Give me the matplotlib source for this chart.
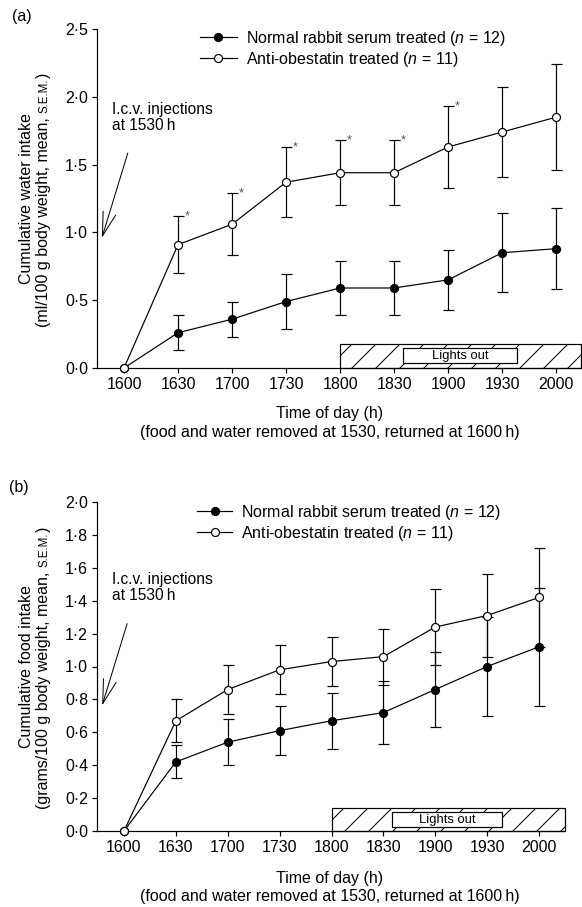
import matplotlib
matplotlib.use('Agg')
import matplotlib.pyplot as plt
from matplotlib.transforms import IdentityTransform
from matplotlib.ticker import FuncFormatter, FixedLocator
from matplotlib.patches import Rectangle

plt.rcParams['font.family'] = ['Liberation Sans', 'DejaVu Sans']
plt.rcParams['mathtext.fontset'] = 'custom'
plt.rcParams['mathtext.rm'] = 'Liberation Sans'
plt.rcParams['mathtext.it'] = 'Liberation Sans:italic'
plt.rcParams['hatch.linewidth'] = 1.0

# ---------------- data ----------------
times = ['1600', '1630', '1700', '1730', '1800', '1830', '1900', '1930', '2000']

water_nrs = [0, 0.26, 0.36, 0.49, 0.59, 0.59, 0.65, 0.85, 0.88]
water_nrs_sem = [0, 0.13, 0.13, 0.20, 0.20, 0.20, 0.22, 0.29, 0.30]
water_anti = [0, 0.91, 1.06, 1.37, 1.44, 1.44, 1.63, 1.74, 1.85]
water_anti_sem = [0, 0.21, 0.23, 0.26, 0.24, 0.24, 0.30, 0.33, 0.39]
water_sig = [False, True, True, True, True, True, True, False, False]

food_nrs = [0, 0.42, 0.54, 0.61, 0.67, 0.72, 0.86, 1.00, 1.12]
food_nrs_sem = [0, 0.10, 0.14, 0.15, 0.17, 0.19, 0.23, 0.30, 0.36]
food_anti = [0, 0.67, 0.86, 0.98, 1.03, 1.06, 1.24, 1.31, 1.42]
food_anti_sem = [0, 0.13, 0.15, 0.15, 0.15, 0.17, 0.23, 0.25, 0.30]

label_nrs = r'Normal rabbit serum treated ($n$ = 12)'
label_anti = r'Anti-obestatin treated ($n$ = 11)'

W, H, DPI = 582, 907, 72
fig = plt.figure(figsize=(W / DPI, H / DPI), dpi=DPI)
FS = 16
FS_NOTE = 15.5
FS_LEG = 16
LW = 1.2


def ax_rect(l, t, r, b):
    return [l / W, 1 - b / H, (r - l) / W, (b - t) / H]


def fmt(v, pos):
    return ('%.1f' % v).replace('.', '\u00b7')


def panel(ax, nrs, nrs_sem, anti, anti_sem, xlim, ylim, yticks,
          lights, hatch_top, legend_xy, handlelen, note_xy, arrow, sig=None):
    x = list(range(len(times)))
    ax.set_xlim(*xlim)
    ax.set_ylim(*ylim)
    for s in ['top', 'right']:
        ax.spines[s].set_visible(False)
    for s in ['left', 'bottom']:
        ax.spines[s].set_linewidth(LW)
    ax.xaxis.set_major_locator(FixedLocator(x))
    ax.set_xticklabels(times)
    ax.yaxis.set_major_locator(FixedLocator(yticks))
    ax.yaxis.set_major_formatter(FuncFormatter(fmt))
    ax.tick_params(direction='out', length=5, width=LW, labelsize=FS)
    ax.tick_params(axis='x', pad=4.5)
    ax.tick_params(axis='y', pad=4)

    # lights-out bar
    ax.add_patch(Rectangle((4, 0), xlim[1] - 4, hatch_top, facecolor='white',
                           edgecolor='black', hatch='/', lw=LW, clip_on=False, zorder=1))
    lx0, lx1, ly0, ly1 = lights
    ax.add_patch(Rectangle((lx0, ly0), lx1 - lx0, ly1 - ly0, facecolor='white',
                           edgecolor='black', lw=LW, clip_on=False, zorder=2))
    ax.text((lx0 + lx1) / 2, (ly0 + ly1) / 2, 'Lights out', ha='center', va='center',
            fontsize=13, zorder=3)

    ax.errorbar(x[1:], nrs[1:], yerr=nrs_sem[1:], fmt='none', ecolor='black',
                elinewidth=LW, capsize=5.5, capthick=LW, zorder=3)
    ax.errorbar(x[1:], anti[1:], yerr=anti_sem[1:], fmt='none', ecolor='black',
                elinewidth=LW, capsize=5.5, capthick=LW, zorder=3)
    h1, = ax.plot(x, nrs, '-o', color='black', mfc='black', mec='black', ms=8,
                  lw=LW, mew=LW, clip_on=False, zorder=4, label=label_nrs)
    h2, = ax.plot(x, anti, '-o', color='black', mfc='white', mec='black', ms=8,
                  lw=LW, mew=LW, clip_on=False, zorder=5, label=label_anti)

    if sig is not None:
        for xi, m, e, s in zip(x, anti, anti_sem, sig):
            if s:
                ax.annotate('*', xy=(xi, m + e), xytext=(7, -3), textcoords='offset points',
                            ha='left', va='baseline', fontsize=13, color='#555555')

    ax.legend(handles=[h1, h2], loc='upper left',
              bbox_to_anchor=(legend_xy[0] / W, 1 - legend_xy[1] / H),
              bbox_transform=fig.transFigure, frameon=False, borderpad=0,
              borderaxespad=0, handlelength=handlelen, handletextpad=0.55,
              labelspacing=0.15, fontsize=FS_LEG)

    ax.text(note_xy[0], note_xy[1], 'I.c.v. injections\nat 1530\u2009h', ha='left',
            va='baseline', fontsize=FS_NOTE, linespacing=1.05,
            family=['Liberation Sans', 'DejaVu Sans'])
    ax.annotate('', xy=arrow[1], xytext=arrow[0],
                arrowprops=dict(arrowstyle='->,head_length=1.2,head_width=0.33',
                                mutation_scale=20, lw=1.0, color='black',
                                shrinkA=0, shrinkB=0))


axA = fig.add_axes(ax_rect(97, 29, 581, 368))
axB = fig.add_axes(ax_rect(97, 502, 565, 831))

panel(axA, water_nrs, water_nrs_sem, water_anti, water_anti_sem,
      (-0.5, 8.46), (0, 2.5), [0, 0.5, 1.0, 1.5, 2.0, 2.5],
      (5.17, 7.28, 0.037, 0.147), 0.177, (200, 28.5), 2.3,
      (-0.22, 1.755), ((0.07, 1.585), (-0.41, 0.96)), sig=water_sig)
panel(axB, food_nrs, food_nrs_sem, food_anti, food_anti_sem,
      (-0.52, 8.5), (0, 2.0), [0, 0.2, 0.4, 0.6, 0.8, 1.0, 1.2, 1.4, 1.6, 1.8, 2.0],
      (5.17, 7.29, 0.024, 0.115), 0.14, (197, 502.5), 2.2,
      (-0.23, 1.406), ((0.06, 1.26), (-0.42, 0.764)))

# panel letters
fig.text(12 / W, 1 - 17 / H, '(a)', ha='left', va='center', fontsize=FS)
fig.text(9 / W, 1 - 488 / H, '(b)', ha='left', va='center', fontsize=FS)

# x labels
for y1 in (414, 878):
    fig.text(330 / W, 1 - y1 / H, 'Time of day (h)', ha='center', va='center', fontsize=FS)
    fig.text(330 / W, 1 - (y1 + 19) / H,
             '(food and water removed at 1530, returned at 1600\u2009h)',
             ha='center', va='center', fontsize=FS,
             family=['Liberation Sans', 'DejaVu Sans'])

# rotated y labels built from pieces (small caps S.E.M.)
renderer = fig.canvas.get_renderer()


def rot_label(x_base, yc_px, pieces):
    items = []
    for s, size, gap in pieces:
        t = fig.text(0, 0, s, rotation=90, rotation_mode='anchor', ha='left',
                     va='baseline', fontsize=size, transform=IdentityTransform())
        length = t.get_window_extent(renderer).height
        items.append((t, length, gap))
    total = sum(l + g for _, l, g in items)
    y = (H - yc_px) - total / 2
    for t, l, g in items:
        t.set_position((x_base, y))
        y += l + g


rot_label(31, 198, [('Cumulative water intake', FS, 0)])
rot_label(48, 200, [('(ml/100 g body weight, mean,', FS, 4.4),
                    ('S.E.M.', 11.5, 0.5), (')', FS, 0)])
rot_label(31, 666, [('Cumulative food intake', FS, 0)])
rot_label(48, 668, [('(grams/100 g body weight, mean,', FS, 4.4),
                    ('S.E.M.', 11.5, 0.5), (')', FS, 0)])

fig.savefig('out.png', dpi=DPI)
